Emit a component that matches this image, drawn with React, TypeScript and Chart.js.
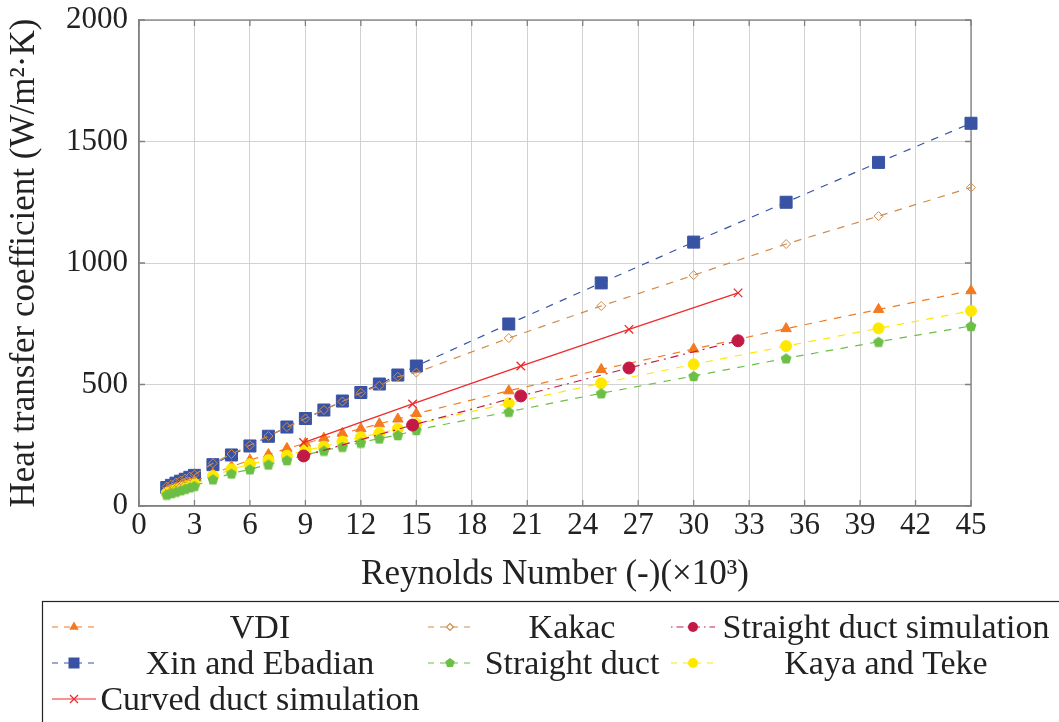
import React, { useEffect, useRef } from "react";
import { Chart, registerables } from "chart.js";
Chart.register(...registerables);

const FONT = "'Liberation Serif', 'DejaVu Serif', serif";

// ---- data ----
const reCorr = [1.5, 1.75, 2, 2.25, 2.5, 2.75, 3, 4, 5, 6, 7, 8, 9, 10, 11, 12, 13, 14, 15, 20, 25, 30, 35, 40, 45];
const vdi = [60, 67, 74, 81, 88, 95, 102, 132, 162, 189, 212, 237, 258, 279, 299, 318, 338, 358, 380, 474, 562, 646, 730, 809, 886];
const kakac = [80, 89, 97, 105, 113, 121, 129, 176, 214, 250, 288, 325, 360, 395, 430, 466, 495, 532, 549, 691, 823, 950, 1078, 1193, 1311];
const xinEbadian = [76, 85, 94, 102, 110, 118, 126, 170, 210, 247, 287, 325, 360, 395, 432, 467, 502, 539, 576, 749, 918, 1086, 1250, 1414, 1575];
const straightDuct = [47, 53, 59, 65, 71, 77, 83, 110, 134, 151, 171, 189, 210, 228, 244, 261, 278, 292, 313, 388, 464, 535, 608, 676, 741];
const kayaTeke = [53, 60, 67, 74, 80, 86, 92, 123, 151, 172, 189, 207, 230, 244, 265, 283, 299, 317, 337, 423, 505, 583, 658, 731, 803];
const reSim = [8.9, 14.8, 20.65, 26.5, 32.4];
const straightSim = [206, 333, 453, 568, 680];
const curvedSim = [261, 420, 576, 727, 877];

const xTicks = [0, 3, 6, 9, 12, 15, 18, 21, 24, 27, 30, 33, 36, 39, 42, 45];
const yTicks = [0, 500, 1000, 1500, 2000];

const COL = {
  vdi: "#f47a20",
  kakac: "#cf8c4c",
  sSim: "#c21a45",
  xin: "#3953a4",
  sDuct: "#6cbf45",
  kaya: "#ffe800",
  curved: "#ee2a2a",
};

const DASH = [7.5, 7.5];
const DASHDOT = [8, 5, 2, 5];

function pentagon(size: number, color: string) {
  const c = document.createElement("canvas");
  c.width = size;
  c.height = size;
  const g = c.getContext("2d")!;
  const r = size / 2 - 0.3;
  g.beginPath();
  for (let k = 0; k < 5; k++) {
    const a = -Math.PI / 2 + (k * 2 * Math.PI) / 5;
    const px = size / 2 + r * Math.cos(a);
    const py = size / 2 + 0.6 + r * Math.sin(a);
    if (k) g.lineTo(px, py);
    else g.moveTo(px, py);
  }
  g.closePath();
  g.fillStyle = color;
  g.fill();
  return c;
}

const zip = (xs: number[], ys: number[]) => xs.map((x, i) => ({ x, y: ys[i] }));

function drawMarker(ctx: CanvasRenderingContext2D, kind: string, x: number, y: number, r: number, color: string) {
  ctx.save();
  ctx.setLineDash([]);
  ctx.fillStyle = color;
  ctx.strokeStyle = color;
  ctx.lineWidth = 1.2;
  ctx.beginPath();
  if (kind === "triangle") {
    ctx.moveTo(x, y - r);
    ctx.lineTo(x + r * 0.866, y + r * 0.5);
    ctx.lineTo(x - r * 0.866, y + r * 0.5);
    ctx.closePath();
    ctx.fill();
  } else if (kind === "rect") {
    ctx.rect(x - r, y - r, 2 * r, 2 * r);
    ctx.fill();
  } else if (kind === "circle") {
    ctx.arc(x, y, r, 0, Math.PI * 2);
    ctx.fill();
  } else if (kind === "diamondOpen") {
    ctx.moveTo(x, y - r);
    ctx.lineTo(x + r, y);
    ctx.lineTo(x, y + r);
    ctx.lineTo(x - r, y);
    ctx.closePath();
    ctx.stroke();
  } else if (kind === "cross") {
    ctx.moveTo(x - r, y - r);
    ctx.lineTo(x + r, y + r);
    ctx.moveTo(x + r, y - r);
    ctx.lineTo(x - r, y + r);
    ctx.stroke();
  } else if (kind === "pentagon") {
    for (let k = 0; k < 5; k++) {
      const a = -Math.PI / 2 + (k * 2 * Math.PI) / 5;
      const px = x + r * Math.cos(a);
      const py = y + r * Math.sin(a);
      if (k) ctx.lineTo(px, py);
      else ctx.moveTo(px, py);
    }
    ctx.closePath();
    ctx.fill();
  }
  ctx.restore();
}

const legendItems = [
  { label: "VDI", col: 0, row: 0, color: COL.vdi, dash: DASH, marker: "triangle", r: 5.5 },
  { label: "Kakac", col: 1, row: 0, color: COL.kakac, dash: DASH, marker: "diamondOpen", r: 3.5 },
  { label: "Straight duct simulation", col: 2, row: 0, color: COL.sSim, dash: DASHDOT, marker: "circle", r: 5 },
  { label: "Xin and Ebadian", col: 0, row: 1, color: COL.xin, dash: DASH, marker: "rect", r: 5.5 },
  { label: "Straight duct", col: 1, row: 1, color: COL.sDuct, dash: DASH, marker: "pentagon", r: 5 },
  { label: "Kaya and Teke", col: 2, row: 1, color: COL.kaya, dash: DASH, marker: "circle", r: 5 },
  { label: "Curved duct simulation", col: 0, row: 2, color: COL.curved, dash: [] as number[], marker: "cross", r: 4 },
];
const legendSampleX = [74, 450, 693];
const legendTextX = [260, 572, 886];
const legendRowY = [627, 663, 699];

const framePlugin = {
  id: "frame",
  beforeDatasetsDraw(chart: any) {
    const { ctx, chartArea: a, scales } = chart;
    ctx.save();
    ctx.strokeStyle = "#808080";
    ctx.lineWidth = 1.3;
    ctx.strokeRect(a.left, a.top, a.right - a.left, a.bottom - a.top);
    ctx.beginPath();
    for (const v of xTicks) {
      const px = scales.x.getPixelForValue(v);
      ctx.moveTo(px, a.top);
      ctx.lineTo(px, a.top + 6);
      ctx.moveTo(px, a.bottom);
      ctx.lineTo(px, a.bottom - 6);
    }
    for (const v of yTicks) {
      const py = scales.y.getPixelForValue(v);
      ctx.moveTo(a.left, py);
      ctx.lineTo(a.left + 6, py);
      ctx.moveTo(a.right, py);
      ctx.lineTo(a.right - 6, py);
    }
    ctx.stroke();
    ctx.restore();
  },
  afterDraw(chart: any) {
    const { ctx } = chart;
    ctx.save();
    ctx.strokeStyle = "#222";
    ctx.lineWidth = 1.2;
    ctx.strokeRect(42.5, 601.5, 1100, 200);
    ctx.font = `34px ${FONT}`;
    ctx.fillStyle = "#222";
    ctx.textAlign = "center";
    ctx.textBaseline = "alphabetic";
    for (const it of legendItems) {
      const cx = legendSampleX[it.col];
      const cy = legendRowY[it.row];
      ctx.save();
      ctx.strokeStyle = it.color;
      ctx.lineWidth = 1.2;
      ctx.setLineDash(it.dash.length ? [6, 6] : []);
      if (it.dash === DASHDOT) ctx.setLineDash([1.5, 4, 7, 4]);
      ctx.beginPath();
      ctx.moveTo(cx - 22, cy);
      ctx.lineTo(cx + 22, cy);
      ctx.stroke();
      ctx.restore();
      drawMarker(ctx, it.marker, cx, cy, it.r, it.color);
      ctx.fillText(it.label, legendTextX[it.col], cy + 11);
    }
    ctx.restore();
  },
};

export default function App() {
  const ref = useRef<HTMLCanvasElement>(null);
  useEffect(() => {
    const pent = pentagon(12, COL.sDuct);
    const base = { showLine: true, clip: false as any, borderWidth: 1.2, pointBorderWidth: 1 };
    const chart = new Chart(ref.current!, {
      type: "line",
      data: {
        datasets: [
          { ...base, label: "Xin and Ebadian", data: zip(reCorr, xinEbadian), borderColor: COL.xin, borderDash: DASH, pointStyle: "rect", pointRadius: 8.5, pointBackgroundColor: COL.xin, pointBorderColor: COL.xin, order: 7 },
          { ...base, label: "VDI", data: zip(reCorr, vdi), borderColor: COL.vdi, borderDash: DASH, pointStyle: "triangle", pointRadius: 6, pointBackgroundColor: COL.vdi, pointBorderColor: COL.vdi, order: 6 },
          { ...base, label: "Kaya and Teke", data: zip(reCorr, kayaTeke), borderColor: COL.kaya, borderDash: DASH, pointStyle: "circle", pointRadius: 5.5, pointBackgroundColor: COL.kaya, pointBorderColor: COL.kaya, order: 5 },
          { ...base, label: "Straight duct", data: zip(reCorr, straightDuct), borderColor: COL.sDuct, borderDash: DASH, pointStyle: pent as any, pointRadius: 6, order: 4 },
          { ...base, label: "Kakac", data: zip(reCorr, kakac), borderColor: COL.kakac, borderDash: DASH, pointStyle: "rectRot", pointRadius: 4.5, pointBackgroundColor: "rgba(0,0,0,0)", pointBorderColor: COL.kakac, order: 3 },
          { ...base, label: "Straight duct simulation", data: zip(reSim, straightSim), borderColor: COL.sSim, borderDash: DASHDOT, pointStyle: "circle", pointRadius: 6, pointBackgroundColor: COL.sSim, pointBorderColor: COL.sSim, order: 2 },
          { ...base, label: "Curved duct simulation", data: zip(reSim, curvedSim), borderColor: COL.curved, borderWidth: 1.3, pointStyle: "crossRot", pointRadius: 6, pointBorderWidth: 1.3, pointBorderColor: COL.curved, order: 1 },
        ],
      },
      options: {
        responsive: false,
        animation: false,
        devicePixelRatio: 1,
        layout: { padding: { left: 0, top: 20, right: 88, bottom: 126 } },
        plugins: { legend: { display: false }, tooltip: { enabled: false } },
        elements: { line: { tension: 0 } },
        scales: {
          x: {
            type: "linear",
            min: 0,
            max: 45,
            afterBuildTicks: (s: any) => {
              s.ticks = xTicks.map((v) => ({ value: v }));
            },
            afterFit: (s: any) => {
              s.height = 90;
            },
            ticks: { padding: 1, autoSkip: false, maxRotation: 0, color: "#222", font: { family: FONT, size: 31 }, callback: (v: any) => String(v) },
            grid: { color: "#d2d2d2", lineWidth: 1, drawTicks: false },
            border: { color: "#808080", width: 1.3 },
            title: { display: true, text: "Reynolds Number (-)(×10³)", color: "#222", font: { family: FONT, size: 35 }, padding: { top: 0, bottom: 0 } },
          },
          y: {
            type: "linear",
            min: 0,
            max: 2000,
            afterBuildTicks: (s: any) => {
              s.ticks = yTicks.map((v) => ({ value: v }));
            },
            afterFit: (s: any) => {
              s.width = 139;
            },
            ticks: { padding: 0, color: "#222", font: { family: FONT, size: 31 }, callback: (v: any) => String(v) },
            grid: { color: "#d2d2d2", lineWidth: 1, drawTicks: true, tickLength: 11, tickColor: "rgba(0,0,0,0)" },
            border: { color: "#808080", width: 1.3 },
            title: { display: true, text: "Heat transfer coefficient (W/m²·K)", color: "#222", font: { family: FONT, size: 35 }, padding: { top: 4, bottom: 0 } },
          },
        },
      } as any,
      plugins: [framePlugin],
    });
    return () => chart.destroy();
  }, []);
  return (
    <div style={{ position: "fixed", left: 0, top: 0, width: 1059, height: 722, background: "#fff" }}>
      <canvas ref={ref} width={1059} height={722} style={{ display: "block" }} />
    </div>
  );
}
